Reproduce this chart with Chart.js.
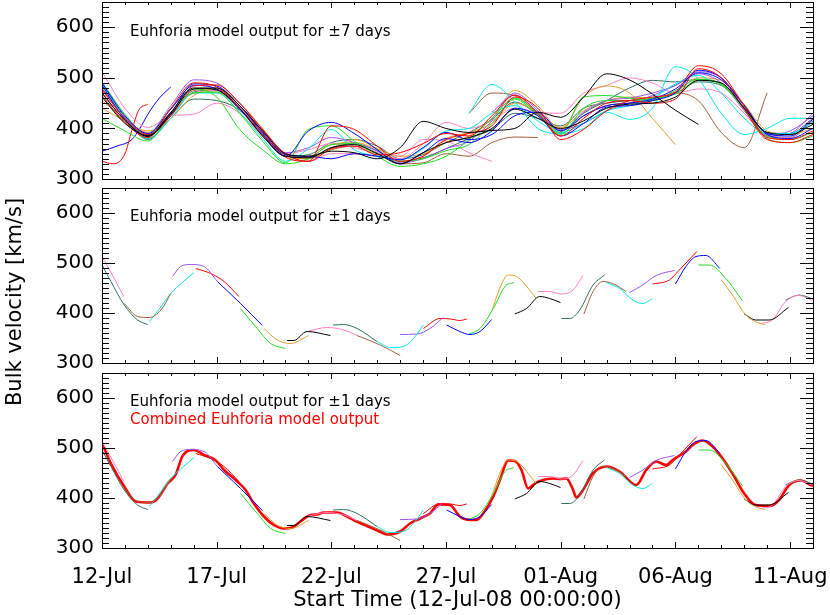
<!DOCTYPE html>
<html>
<head>
    <title>Euhforia bulk velocity</title>
    <script src="https://cdn.jsdelivr.net/npm/chart.js@4.4.1/dist/chart.umd.min.js"></script>
    <style>
        body { margin: 0; background: #fff; }
        #wrap { position: relative; width: 830px; height: 615px; overflow: hidden; }
        canvas { position: absolute; left: 0; }
        #ytitle { position: absolute; left: -136px; top: 290px; width: 300px; height: 24px; line-height: 24px;
                  text-align: center; font: 21px 'DejaVu Sans', sans-serif; color: #000; transform: rotate(-90deg); }
    </style>
</head>
<body>
<div id="wrap">
    <canvas id="c1" width="830" height="188" style="top:0px"></canvas>
    <canvas id="c2" width="830" height="190" style="top:183px"></canvas>
    <canvas id="c3" width="830" height="249" style="top:366px"></canvas>
    <div id="ytitle">Bulk velocity [km/s]</div>
</div>
<script>
const FONT = "'DejaVu Sans', sans-serif";

// axes
const xTickDays = [0, 5, 10, 15, 20, 25, 30];
const xTickLabels = ['12-Jul', '17-Jul', '22-Jul', '27-Jul', '01-Aug', '06-Aug', '11-Aug'];
const yTickVals = [300, 400, 500, 600];
const xTitle = 'Start Time (12-Jul-08 00:00:00)';

// top panel: +-7 day runs, one value per day (12-Jul = day 0)
const dayGrid = [0,1,2,3,4,5,6,7,8,9,10,11,12,13,14,15,16,17,18,19,20,21,22,23,24,25,26,27,28,29,30,31];
const ens7Colors = ['#000000','#000000','#ff0000','#ff0000','#0000ff','#0000ff','#22dd22','#22dd22','#00e8e8','#00e8e8',
                    '#9955ee','#9955ee','#e0a030','#e0a030','#ff80c0','#ff80c0','#a0603a','#a0603a','#2f6f60','#2f6f60'];
const ens7Vals = [
    [470,416,384,428,478,480,445,395,350,345,355,352,340,362,414,400,392,396,400,432,422,462,508,496,468,436,408,null,null,null,null,null],
    [462,410,386,432,480,476,440,385,345,342,362,368,350,330,352,372,382,400,438,420,400,415,440,448,450,462,495,490,440,392,388,408],
    [478,420,388,425,484,486,450,398,350,335,405,398,365,335,345,378,390,405,462,440,378,398,435,455,462,472,524,508,445,382,378,395],
    [465,412,382,440,490,482,440,390,343,335,360,365,348,352,370,390,385,425,466,430,385,420,450,455,450,458,518,500,438,378,372,388],
    [490,425,390,438,485,478,438,388,345,395,412,390,358,330,352,380,372,395,440,425,385,410,442,445,455,470,515,500,445,388,380,400],
    [485,418,385,430,488,484,445,392,348,345,340,350,345,338,362,392,378,388,425,432,395,425,445,450,458,478,510,496,446,390,385,418],
    [420,395,375,430,470,472,430,375,332,398,405,375,345,325,330,345,378,420,460,430,392,462,465,460,455,475,497,486,438,380,372,385],
    [492,428,388,440,478,462,398,358,330,340,368,370,350,335,340,356,368,410,458,425,388,440,455,455,460,468,495,488,440,385,378,392],
    [488,420,380,420,470,470,432,380,335,360,398,358,345,338,360,395,400,430,445,415,392,410,435,445,460,488,505,470,420,390,390,412],
    [null,null,null,null,null,null,null,null,null,null,null,null,null,null,null,null,430,487,452,400,390,400,432,418,440,522,498,430,388,400,420,420],
    [480,422,390,445,496,490,450,398,352,362,382,372,355,332,340,360,375,415,470,435,395,432,455,460,470,485,512,500,440,385,390,430],
    [null,null,null,null,null,null,null,null,null,null,null,null,null,null,null,null,null,432,466,432,398,410,435,450,465,485,508,490,435,388,395,425],
    [440,415,395,420,465,478,450,400,350,345,368,372,360,345,350,372,385,420,475,445,398,462,484,470,420,368,null,null,null,null,null,null],
    [455,420,392,428,470,472,438,385,345,340,360,378,360,335,345,380,392,410,450,432,402,435,455,462,460,472,500,495,448,395,388,400],
    [512,440,402,425,428,450,430,385,348,335,350,350,345,345,378,375,352,335,null,null,null,null,null,null,null,null,null,null,null,null,null,null],
    [475,420,390,432,470,475,442,392,350,358,370,362,350,340,370,412,400,415,440,432,430,470,485,500,490,470,478,470,430,385,382,420],
    [470,415,380,425,475,478,445,395,348,340,358,365,352,330,332,350,345,372,383,382,null,null,null,null,null,null,null,null,null,null,null,null],
    [null,null,null,null,null,null,null,null,null,null,null,null,null,null,null,null,430,470,465,428,390,425,445,450,455,470,455,392,362,470,null,null],
    [488,422,378,420,458,455,436,385,345,348,372,378,365,340,348,372,392,418,452,428,395,430,455,480,495,492,497,488,440,385,382,415],
    [476,420,385,425,472,476,445,395,350,342,362,370,356,335,342,360,380,398,430,420,405,440,450,455,458,470,492,485,442,392,390,420]
];
// two short early runs that start low
const red1Days = [0, 0.5, 1, 1.3, 1.6, 2.0];
const red1Vals = [335, 330, 350, 396, 436, 448];
const blue1Days = [0, 0.65, 1.3, 1.65, 2, 2.5, 3];
const blue1Vals = [355, 365, 378, 400, 428, 460, 482];

// middle/bottom panels: +-1 day pieces
const segColors = ['#ff80c0','#2f6f60','#a0603a','#00e8e8','#9955ee','#ff0000','#0000ff','#22dd22','#e0a030','#000000',
                   '#ff80c0','#2f6f60','#a0603a','#00e8e8','#9955ee','#ff0000','#0000ff','#22dd22','#e0a030','#000000',
                   '#ff80c0','#2f6f60','#a0603a','#00e8e8','#9955ee','#ff0000','#0000ff','#22dd22','#e0a030','#000000',
                   '#ff80c0','#2f6f60'];
const segDays = [
    [0, 0.5, 0.95], [0, 0.39, 0.97, 1.55, 1.99], [0.97, 1.55, 2.06, 2.57, 3.0], [2.06, 2.42, 3.0, 4.01],
    [3.07, 3.43, 3.87, 4.45, 5.03], [4.09, 4.74, 5.32, 5.97], [5.03, 6.04, 6.99], [6.04, 6.77, 7.35, 8.0],
    [7.06, 7.64, 8.22, 9.01], [8.07, 8.36, 8.94, 9.96], [9.01, 9.81, 10.54, 11.12], [10.07, 10.54, 11.12, 11.99],
    [11.12, 12.13, 13.0], [11.99, 12.57, 13.14, 13.65, 14.01], [13.0, 13.73, 14.3, 14.88], [14.01, 14.74, 15.2, 15.6, 15.9],
    [15.03, 15.6, 16.04, 16.48, 16.99], [15.97, 16.48, 17.06, 17.57, 17.96], [16.99, 17.34, 17.71, 18.07, 18.94], [18.0, 18.51, 19.09, 19.52, 19.99],
    [19.01, 19.52, 20.03, 20.54, 20.97], [20.03, 20.39, 20.83, 21.41, 21.91], [21.01, 21.41, 21.84, 22.27, 22.86], [21.99, 22.57, 23.14, 23.58, 23.97],
    [23.0, 23.58, 24.16, 24.96], [24.01, 24.74, 25.17, 25.94], [25.0, 25.46, 25.9, 26.33, 26.94], [26.01, 26.48, 27.2, 27.93],
    [26.99, 27.49, 28.07, 28.58, 28.91], [28.0, 28.51, 29.09, 29.93], [28.73, 29.23, 29.81, 30.39, 30.94], [29.81, 30.39, 31.0]
];
const segVals = [
    [513, 472, 433], [496, 463, 416, 386, 377], [419, 393, 391, 406, 439], [383, 403, 439, 481],
    [473, 493, 497, 493, 463], [489, 479, 463, 433], [463, 419, 375], [409, 369, 339, 329],
    [369, 346, 339, 355], [345, 345, 363, 355], [364, 371, 366, 355], [376, 377, 369, 343],
    [355, 336, 315], [343, 331, 333, 353, 376], [357, 358, 369, 391], [369, 389, 388, 385, 388],
    [376, 363, 357, 363, 387], [357, 369, 409, 453, 461], [403, 449, 476, 473, 429], [398, 409, 433, 429, 421],
    [443, 443, 438, 446, 475], [389, 389, 406, 456, 476], [398, 443, 463, 459, 443], [461, 449, 426, 419, 428],
    [441, 456, 475, 485], [458, 466, 486, 523], [458, 493, 513, 515, 489], [496, 496, 469, 424],
    [467, 436, 396, 381, 377], [398, 386, 386, 411], [379, 386, 423, 435, 426], [426, 436, 428]
];

// combined output (bottom panel, thick red)
const combDays = [0, 0.39, 0.97, 1.48, 2.13, 2.42, 2.86, 3.2, 3.5, 3.73, 4.0, 4.45, 4.96, 5.32, 5.9, 6.26, 6.62, 7.06, 7.49, 7.93,
                  8.29, 8.65, 9.09, 9.38, 9.67, 10.25, 10.68, 11.1, 11.55, 12.1, 12.42, 13.0, 13.43, 13.87, 14.3, 14.67, 15.17, 15.6, 16.04, 16.33,
                  16.62, 17.06, 17.35, 17.71, 18.0, 18.29, 18.58, 18.87, 19.23, 19.67, 19.96, 20.25, 20.54, 20.68, 20.97, 21.4, 21.99, 22.57, 23.29, 23.73,
                  24.16, 24.6, 24.88, 25.46, 25.75, 26.19, 26.62, 27.06, 27.49, 28.0, 28.5, 29.09, 29.52, 29.96, 30.47, 30.9, 31.0];
const combVals = [510, 469, 423, 393, 391, 399, 429, 446, 483, 494, 496, 486, 475, 456, 433, 416, 389, 363, 346, 339,
                  341, 353, 366, 367, 371, 371, 363, 353, 344, 333, 327, 333, 349, 359, 369, 387, 386, 363, 356, 356,
                  369, 403, 436, 475, 474, 456, 419, 429, 436, 439, 438, 439, 416, 401, 416, 449, 463, 453, 426, 456,
                  473, 466, 476, 493, 506, 515, 503, 479, 449, 409, 386, 384, 396, 426, 435, 426, 424];

function toPoints(days, vals) {
    const pts = [];
    days.forEach((d, i) => { if (vals[i] !== null) pts.push({ x: d, y: vals[i] }); });
    return pts;
}
function lineSet(pts, color, width) {
    return { data: pts, borderColor: color, borderWidth: width, pointRadius: 0, fill: false, cubicInterpolationMode: 'monotone' };
}

// IDL style box with inward ticks on all four sides + note text
const idlFrame = {
    id: 'idlFrame',
    afterDatasetsDraw(chart, args, opts) {
        const ctx = chart.ctx, a = chart.chartArea, x = chart.scales.x, y = chart.scales.y;
        ctx.save();
        ctx.strokeStyle = '#000';
        ctx.lineWidth = 1;
        ctx.beginPath();
        for (let v = 300; v <= 650; v += 10) {
            const py = Math.round(y.getPixelForValue(v)) + 0.5;
            const len = yTickVals.includes(v) ? 13 : 7;
            ctx.moveTo(a.left, py); ctx.lineTo(a.left + len, py);
            ctx.moveTo(a.right, py); ctx.lineTo(a.right - len, py);
        }
        for (let d = 0; d <= 31; d++) {
            const px = Math.round(x.getPixelForValue(d)) + 0.5;
            const len = xTickDays.includes(d) ? 6 : 3;
            ctx.moveTo(px, a.top); ctx.lineTo(px, a.top + len);
            ctx.moveTo(px, a.bottom); ctx.lineTo(px, a.bottom - len);
        }
        ctx.stroke();
        ctx.strokeRect(Math.round(a.left) + 0.5, Math.round(a.top) + 0.5, Math.round(a.right - a.left), Math.round(a.bottom - a.top));
        ctx.font = '15px ' + FONT;
        ctx.textBaseline = 'middle';
        ctx.textAlign = 'left';
        (opts.notes || []).forEach(n => {
            ctx.fillStyle = n.color;
            ctx.fillText(n.text, a.left + 28, a.top + n.dy);
        });
        ctx.restore();
    }
};

function makeOptions(cfg) {
    return {
        responsive: false,
        animation: false,
        devicePixelRatio: 1,
        layout: { padding: { left: 0, right: 17, top: cfg.padTop, bottom: cfg.padBottom } },
        plugins: { legend: { display: false }, tooltip: { enabled: false }, idlFrame: { notes: cfg.notes } },
        scales: {
            x: {
                type: 'linear', min: 0, max: 31,
                grid: { display: false, drawTicks: false }, border: { display: false },
                afterBuildTicks: s => { s.ticks = xTickDays.map(v => ({ value: v })); },
                ticks: { display: cfg.showX, autoSkip: false, maxRotation: 0, padding: 17, color: '#000',
                         font: { family: FONT, size: 21 }, callback: (v, i) => xTickLabels[i] },
                title: { display: cfg.showX, text: xTitle, color: '#000', font: { family: FONT, size: 21 }, padding: { top: 0, bottom: 2 } },
                afterFit: s => { s.height = cfg.xHeight; s.paddingLeft = 0; s.paddingRight = 0; }
            },
            y: {
                type: 'linear', min: 300, max: 650,
                grid: { display: false, drawTicks: false }, border: { display: false },
                afterBuildTicks: s => { s.ticks = yTickVals.map(v => ({ value: v })); },
                ticks: { padding: 8, color: '#000', font: { family: FONT, size: 20 } },
                afterFit: s => { s.width = 102; s.paddingTop = 0; s.paddingBottom = 0; }
            }
        }
    };
}

// top panel
const topSets = ens7Vals.map((vals, i) => lineSet(toPoints(dayGrid, vals), ens7Colors[i], 1));
topSets.push(lineSet(toPoints(red1Days, red1Vals), '#ff0000', 1));
topSets.push(lineSet(toPoints(blue1Days, blue1Vals), '#0000ff', 1));
new Chart(document.getElementById('c1'), {
    type: 'line',
    data: { datasets: topSets },
    options: makeOptions({ padTop: 2, padBottom: 9, xHeight: 0, showX: false,
        notes: [{ text: 'Euhforia model output for \u00b17 days', color: '#000', dy: 30 }] }),
    plugins: [idlFrame]
});

// middle panel
const segSets = () => segVals.map((vals, i) => lineSet(toPoints(segDays[i], vals), segColors[i], 1));
new Chart(document.getElementById('c2'), {
    type: 'line',
    data: { datasets: segSets() },
    options: makeOptions({ padTop: 5, padBottom: 10, xHeight: 0, showX: false,
        notes: [{ text: 'Euhforia model output for \u00b11 days', color: '#000', dy: 29 }] }),
    plugins: [idlFrame]
});

// bottom panel
const botSets = segSets();
botSets.push(lineSet(toPoints(combDays, combVals), '#ff0000', 2.6));
new Chart(document.getElementById('c3'), {
    type: 'line',
    data: { datasets: botSets },
    options: makeOptions({ padTop: 7, padBottom: 0, xHeight: 67, showX: true,
        notes: [{ text: 'Euhforia model output for \u00b11 days', color: '#000', dy: 29 },
                { text: 'Combined Euhforia model output', color: '#ff0000', dy: 47 }] }),
    plugins: [idlFrame]
});
</script>
</body>
</html>
